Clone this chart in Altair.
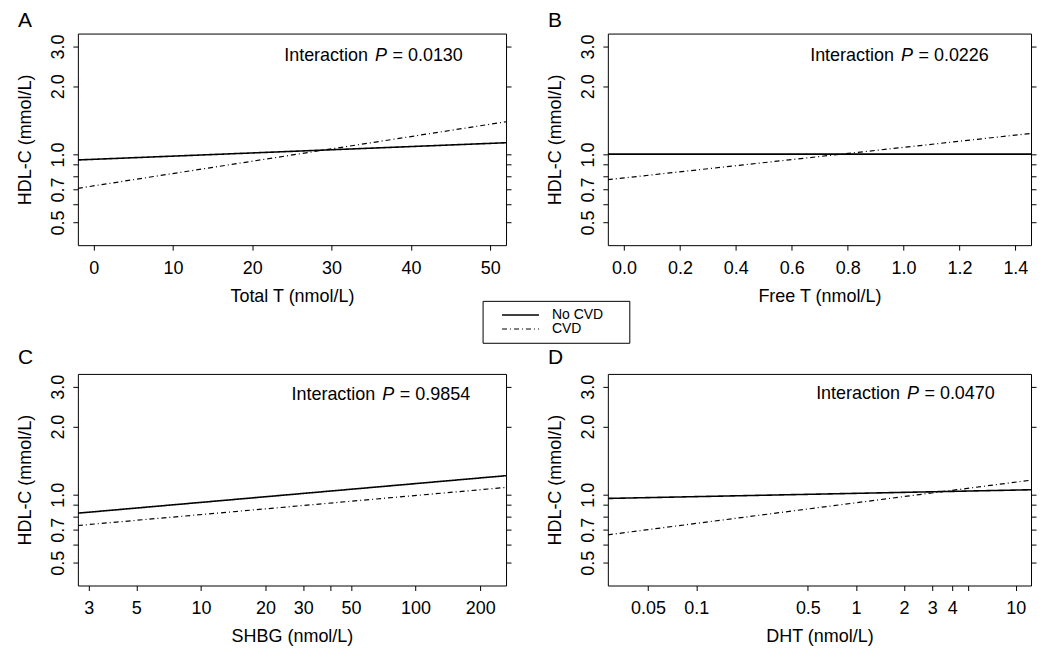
import json
import altair as alt
import pandas as pd

FONT = "Liberation Sans, Arial, Helvetica, sans-serif"
GROUPS = ["No CVD", "CVD"]

# ends of the fitted lines (x) and HDL-C values read at those ends
A_X = [-2.0, 52.0]
A_NOCVD = [0.945, 1.126]
A_CVD = [0.708, 1.394]

B_X = [-0.058, 1.456]
B_NOCVD = [1.003, 1.003]
B_CVD = [0.773, 1.238]

C_X = [2.67, 264.0]
C_NOCVD = [0.829, 1.214]
C_CVD = [0.731, 1.077]

D_X = [0.028, 12.46]
D_NOCVD = [0.963, 1.052]
D_CVD = [0.665, 1.16]

P_VALUES = ["0.0130", "0.0226", "0.9854", "0.0470"]
LETTERS = ["A", "B", "C", "D"]
X_TITLES = ["Total T (nmol/L)", "Free T (nmol/L)", "SHBG (nmol/L)", "DHT (nmol/L)"]
Y_TITLE = "HDL-C (mmol/L)"

Y_DOMAIN = [0.397, 3.42]
Y_TICKS = [0.5, 0.6, 0.7, 0.8, 0.9, 1.0, 2.0, 3.0]
Y_LABELED = [0.5, 0.7, 1.0, 2.0, 3.0]
A_TICKS = [0, 10, 20, 30, 40, 50]
B_TICKS = [0.0, 0.2, 0.4, 0.6, 0.8, 1.0, 1.2, 1.4]
C_TICKS = [3, 5, 10, 20, 30, 40, 50, 100, 200]
C_LABELED = [3, 5, 10, 20, 30, 50, 100, 200]
D_TICKS = [0.05, 0.1, 0.5, 1, 2, 3, 4, 5, 10]
D_LABELED = [0.05, 0.1, 0.5, 1, 2, 3, 4, 10]


def make_df(xs, no, cvd):
    rows = []
    for g, ys in zip(GROUPS, [no, cvd]):
        for x, y in zip(xs, ys):
            rows.append({"x": x, "y": y, "group": g})
    return pd.DataFrame(rows)


def sel_expr(labeled, fmt):
    return ("indexof(" + json.dumps(labeled) + ", datum.value) >= 0 ? format(datum.value, '"
            + fmt + "') : ''")


def panel(df, xscale, xticks, xexpr, xtitle, pval, letter, text_x, width, letter_y, text_y,
          legend, extra=None):
    yscale = alt.Scale(type="log", domain=Y_DOMAIN, nice=False)
    xaxis = alt.Axis(values=xticks, labelExpr=xexpr, labelBaseline="alphabetic",
                     labelPadding=23.5, titleY=56.2, titleBaseline="alphabetic",
                     tickSize=5)
    yaxis = alt.Axis(values=Y_TICKS, labelExpr=sel_expr(Y_LABELED, ".1f"), labelAngle=270,
                     labelAlign="center", labelBaseline="alphabetic", labelPadding=9.8,
                     titleX=-47, titleY=106, titleAngle=270, titleBaseline="alphabetic",
                     titleAlign="center", tickSize=5)
    dash = alt.StrokeDash("group:N", scale=alt.Scale(domain=GROUPS, range=[[1, 0], [5, 3, 1, 3]]),
                          legend=legend)
    sw = alt.StrokeWidth("group:N", scale=alt.Scale(domain=GROUPS, range=[1.6, 1.2]), legend=None)
    lines = alt.Chart(df).mark_line(color="black", clip=True).encode(
        x=alt.X("x:Q", scale=xscale, axis=xaxis, title=xtitle),
        y=alt.Y("y:Q", scale=yscale, axis=yaxis, title=Y_TITLE),
        strokeDash=dash,
        strokeWidth=sw,
    )
    right = alt.Chart(df).mark_point(opacity=0).encode(
        y=alt.Y("y:Q", scale=yscale,
                axis=alt.Axis(orient="right", values=Y_TICKS, labels=False, title=None,
                              tickSize=5, domain=False, grid=False)),
    )
    tdf = pd.DataFrame({"a": ["Interaction"], "p": ["P"], "v": ["= " + pval], "l": [letter]})
    base = alt.Chart(tdf)
    t1 = base.mark_text(align="left", baseline="alphabetic", fontSize=18, font=FONT,
                        color="black").encode(x=alt.value(text_x), y=alt.value(text_y), text="a:N")
    t2 = base.mark_text(align="left", baseline="alphabetic", fontSize=18, font=FONT,
                        fontStyle="italic", color="black").encode(
        x=alt.value(text_x + 91), y=alt.value(text_y), text="p:N")
    t3 = base.mark_text(align="left", baseline="alphabetic", fontSize=18, font=FONT,
                        color="black").encode(x=alt.value(text_x + 108.5), y=alt.value(text_y), text="v:N")
    t4 = base.mark_text(align="left", baseline="alphabetic", fontSize=21, font=FONT,
                        color="black").encode(x=alt.value(-60), y=alt.value(letter_y), text="l:N")
    layers = [lines, right, t1, t2, t3, t4]
    if extra is not None:
        layers = [extra] + layers
    return alt.layer(*layers).resolve_axis(y="independent").properties(width=width, height=212)


# legend (drawn on panel A, sitting between the two rows)
legend_a = alt.Legend(orient="none", legendX=424, legendY=275, title=None,
                      symbolType="M-3.083,0H3.083", symbolSize=144, symbolStrokeWidth=1.2,
                      symbolStrokeColor="black",
                      labelFontSize=14, labelFont=FONT, labelColor="black", labelOffset=24.5,
                      symbolOffset=12.5, padding=0, rowPadding=-1.4)
legend_box = alt.Chart(pd.DataFrame({"k": [0]})).mark_rect(
    fill="white", stroke="black", strokeWidth=1).encode(
    x=alt.value(406), x2=alt.value(553), y=alt.value(268.3), y2=alt.value(310.3))

pa = panel(make_df(A_X, A_NOCVD, A_CVD),
           alt.Scale(domain=[-2, 52], nice=False, zero=False), A_TICKS,
           "format(datum.value, 'd')", X_TITLES[0], P_VALUES[0], LETTERS[0], 206.7, 429,
           -6.7, 27.5, legend_a, legend_box)
pb = panel(make_df(B_X, B_NOCVD, B_CVD),
           alt.Scale(domain=[-0.058, 1.456], nice=False, zero=False), B_TICKS,
           "format(datum.value, '.1f')", X_TITLES[1], P_VALUES[1], LETTERS[1], 202.7, 424,
           -6.7, 27.5, None)
pc = panel(make_df(C_X, C_NOCVD, C_CVD),
           alt.Scale(type="log", domain=[2.67, 264.0], nice=False), C_TICKS,
           sel_expr(C_LABELED, "~g"), X_TITLES[2], P_VALUES[2], LETTERS[2], 214, 429,
           -9.5, 26.6, None)
pd_ = panel(make_df(D_X, D_NOCVD, D_CVD),
            alt.Scale(type="log", domain=[0.028, 12.46], nice=False), D_TICKS,
            sel_expr(D_LABELED, "~g"), X_TITLES[3], P_VALUES[3], LETTERS[3], 208.7, 424,
            -9.5, 25.5, None)

chart = alt.concat(pa, pb, pc, pd_, columns=2, spacing={"row": 129, "column": 102},
                   bounds="flush").resolve_scale(
    strokeDash="independent", strokeWidth="independent").properties(
    padding={"left": 8, "top": 0, "right": 5, "bottom": 5},
    background="white",
).configure_view(stroke="black", strokeWidth=1).configure_axis(
    domain=False, grid=False, tickColor="black", tickWidth=1, labelColor="black",
    titleColor="black", labelFont=FONT, titleFont=FONT, labelFontSize=18, titleFontSize=18,
    titleFontWeight="normal", labelOverlap=False, labelFlush=False,
)

chart.save("out.html", embed_options={"renderer": "svg", "actions": False})
